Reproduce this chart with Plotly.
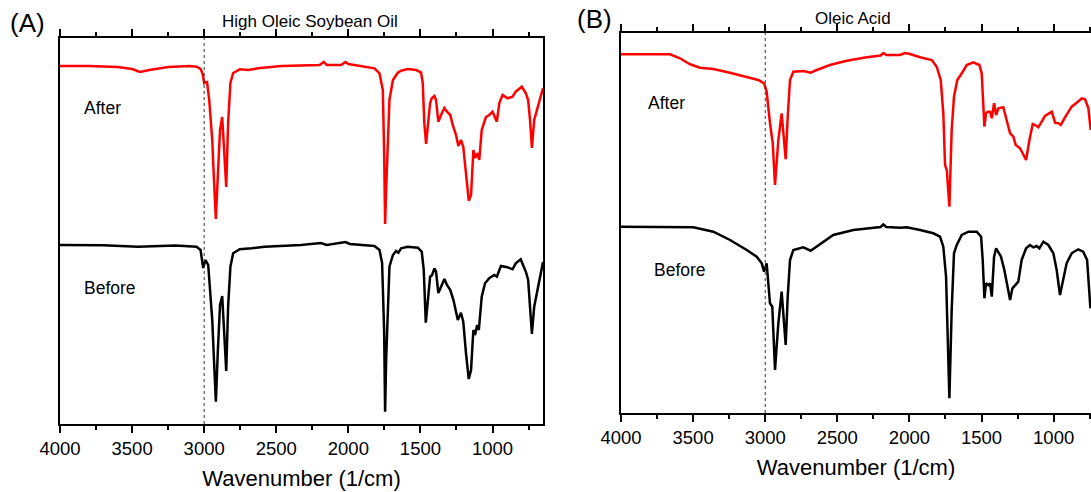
import plotly.graph_objects as go

# ---------------- data ----------------
# Panel A: High Oleic Soybean Oil
wn_a_after = [4000, 3800, 3600, 3500, 3445, 3380, 3250, 3100, 3053, 3025, 3010, 3000, 2990, 2980,
              2965, 2944, 2932, 2919, 2905, 2890, 2875, 2862, 2847, 2834, 2818, 2799, 2753, 2695,
              2626, 2465, 2300, 2200, 2170, 2150, 2050, 2020, 2000, 1911, 1819, 1784, 1761, 1752,
              1745, 1738, 1726, 1715, 1691, 1657, 1634, 1588, 1530, 1496, 1484, 1473, 1461, 1449,
              1433, 1421, 1403, 1392, 1376, 1357, 1334, 1316, 1293, 1276, 1253, 1237, 1219, 1203,
              1184, 1165, 1149, 1133, 1119, 1103, 1092, 1075, 1046, 1023, 1000, 984, 970, 953, 930,
              896, 861, 839, 797, 769, 753, 739, 727, 711, 693, 658, 650]
t_a_after = [358, 358, 357, 355, 352, 354, 357, 358, 357.3, 355, 350, 341, 342, 342,
             324, 284, 244, 205, 249, 294, 307, 274, 237, 301, 341, 351, 354.7, 354,
             355.7, 358, 359, 359, 362, 359, 359, 362, 360, 358, 355.7, 350.7, 334, 274,
             200, 234, 284, 324, 344, 351.3, 353.3, 355, 354, 351.7, 341, 301, 280, 297.3,
             321, 326, 328, 324, 302.3, 309, 316, 312.3, 309, 299, 289, 278, 284, 277.3,
             251, 223.3, 229, 274, 266, 271, 264, 294, 307, 309, 312.3, 307.3, 302.3, 321, 329,
             325.7, 327.3, 332.3, 337.3, 330.7, 324, 302.3, 276, 304, 314, 333.3, 336]

wn_a_before = [4000, 3700, 3460, 3200, 3053, 3025, 3007, 2998, 2991, 2972, 2955, 2944, 2932, 2919,
               2905, 2890, 2875, 2862, 2847, 2834, 2818, 2799, 2753, 2670, 2580, 2330, 2190, 2150,
               2020, 1990, 1911, 1819, 1784, 1766, 1752, 1745, 1738, 1731, 1715, 1691, 1669, 1653,
               1634, 1588, 1518, 1491, 1477, 1463, 1449, 1433, 1419, 1403, 1392, 1376, 1357, 1334,
               1316, 1293, 1271, 1241, 1219, 1203, 1184, 1165, 1149, 1133, 1121, 1107, 1095, 1075,
               1052, 1023, 988, 970, 942, 896, 861, 839, 805, 769, 753, 739, 727, 711, 688, 658, 650]
t_a_before = [179, 178.7, 177.3, 178.5, 177.3, 174, 156, 162, 164, 159, 124, 104, 64, 22.3,
              74, 119, 128, 94, 53, 117.3, 157.3, 170.7, 174.7, 175.7, 177.3, 179, 181, 179,
              182, 180, 179.3, 178, 174, 161, 94, 12.3, 64, 94, 157.3, 169, 173, 171.3,
              175.7, 177.3, 176.3, 172.3, 154, 101.3, 121, 147.3, 149, 155.7, 152.3, 131, 137.3, 145,
              139, 134, 124, 104, 111.3, 102.3, 70.7, 45, 54, 94, 89, 99, 94, 127.3,
              140.7, 145.7, 149, 147.3, 158, 156.7, 154.7, 160.7, 164.7, 152.3, 144, 114, 90, 117.3,
              134, 159, 162]

# Panel B: Oleic Acid
wn_b_after = [4000, 3800, 3660, 3591, 3521, 3452, 3360, 3244, 3128, 3048, 3008, 2990, 2967, 2948,
              2932, 2920, 2909, 2886, 2870, 2858, 2844, 2828, 2805, 2736, 2685, 2643, 2551, 2435,
              2296, 2200, 2181, 2160, 2065, 2030, 1996, 1926, 1845, 1811, 1783, 1765, 1753, 1741,
              1723, 1707, 1691, 1668, 1637, 1603, 1557, 1515, 1499, 1487, 1480, 1469, 1457, 1441,
              1429, 1413, 1399, 1383, 1349, 1326, 1302, 1279, 1263, 1233, 1210, 1191, 1168, 1145,
              1129, 1106, 1083, 1060, 1013, 990, 967, 951, 921, 875, 840, 805, 782, 759, 743]
t_b_after = [358.7, 358.7, 358.7, 354.7, 348.7, 345.3, 344, 340.3, 336.3, 333, 329.7, 321.3, 290, 270,
             228, 253, 273, 299.7, 273, 253.7, 296.3, 333, 341.3, 342, 340.3, 343, 348, 352.3,
             355.7, 357.5, 360, 358, 358, 360, 359, 355.7, 353, 346.3, 333, 299.7, 248, 243,
             206.3, 283, 316.3, 333, 339.7, 348, 350.7, 348, 339.7, 303, 286.3, 299.7, 301.3, 301.3,
             294.7, 309.7, 298, 304.7, 305.7, 293, 279.7, 276.3, 268, 264.7, 258, 253, 273, 289,
             288, 285.7, 291.3, 297, 301.3, 290.3, 289.7, 288, 295.7, 306.3, 310.3, 314.7, 313.7, 304.7, 283]

wn_b_before = [4000, 3700, 3499, 3360, 3244, 3128, 3059, 3024, 3008, 2990, 2967, 2951, 2932, 2920,
               2909, 2886, 2870, 2858, 2844, 2828, 2805, 2736, 2685, 2643, 2528, 2389, 2200, 2181,
               2160, 2065, 2019, 1926, 1834, 1788, 1765, 1746, 1734, 1723, 1707, 1691, 1672, 1637,
               1591, 1533, 1503, 1492, 1480, 1469, 1453, 1441, 1429, 1413, 1399, 1383, 1365, 1342,
               1321, 1302, 1286, 1268, 1245, 1222, 1191, 1164, 1141, 1118, 1099, 1071, 1037, 1002,
               979, 956, 933, 910, 875, 830, 795, 768, 745]
t_b_before = [186.3, 186.3, 185.7, 181.3, 173, 163, 156.3, 149.7, 141.3, 149.7, 109.7, 106.3, 43, 68,
              89.7, 121.3, 93, 68, 116.3, 153, 163, 165.7, 162.3, 166.3, 178, 183, 186, 188.5,
              186, 185.3, 185.7, 183, 179.7, 176.3, 166.3, 136.3, 76.3, 14.7, 103, 159.7, 168, 178,
              181.3, 181.3, 176.3, 153, 114.7, 129.7, 128, 129.7, 116.3, 156.3, 164.7, 161.3, 156.3, 143,
              126.3, 113, 124.7, 128, 131.3, 153, 164.7, 168, 165.7, 167, 164.7, 171.3, 168, 159.7,
              143, 118, 133, 149.7, 159.7, 163.7, 161.3, 153, 104.7]

panel_titles = ["High Oleic Soybean Oil", "Oleic Acid"]
panel_letters = ["(A)", "(B)"]
series_names = ["After", "Before"]
x_title = "Wavenumber (1/cm)"
x_ticks = [4000, 3500, 3000, 2500, 2000, 1500, 1000]
marker_wn = 3000  # dotted reference line

# ---------------- figure ----------------
W, H = 1091, 492
FONT = "Liberation Sans, Arial, sans-serif"
RED = "#ff0000"
BLACK = "#000000"


def px(x):
    return x / W


def py(y):
    return 1 - y / H


fig = go.Figure()
fig.add_trace(go.Scatter(x=wn_a_after, y=t_a_after, mode="lines", line=dict(color=RED, width=2.5),
                         name="After", xaxis="x", yaxis="y", showlegend=False))
fig.add_trace(go.Scatter(x=wn_a_before, y=t_a_before, mode="lines", line=dict(color=BLACK, width=2.5),
                         name="Before", xaxis="x", yaxis="y", showlegend=False))
fig.add_trace(go.Scatter(x=wn_b_after, y=t_b_after, mode="lines", line=dict(color=RED, width=2.5),
                         name="After", xaxis="x2", yaxis="y2", showlegend=False))
fig.add_trace(go.Scatter(x=wn_b_before, y=t_b_before, mode="lines", line=dict(color=BLACK, width=2.5),
                         name="Before", xaxis="x2", yaxis="y2", showlegend=False))

xcommon = dict(
    showline=True, linecolor=BLACK, linewidth=2, mirror="ticks",
    ticks="outside", ticklen=7, tickwidth=1.5, tickcolor=BLACK,
    tickvals=x_ticks, ticktext=[str(t) for t in x_ticks],
    minor=dict(dtick=250, ticks="outside", ticklen=4, tickwidth=1.5, tickcolor=BLACK, showgrid=False),
    showgrid=False, zeroline=False,
    tickfont=dict(family=FONT, size=18.5, color=BLACK),
    title=dict(text=x_title, font=dict(family=FONT, size=22, color=BLACK), standoff=12),
    automargin=False,
)
ycommon = dict(showline=True, linecolor=BLACK, linewidth=2, ticks="", showticklabels=False,
               showgrid=False, zeroline=False, automargin=False)

fig.update_layout(
    width=W, height=H, margin=dict(l=0, r=0, t=0, b=0),
    paper_bgcolor="white", plot_bgcolor="white",
    font=dict(family=FONT, color=BLACK),
    xaxis=dict(xcommon, domain=[px(60), px(543)], range=[4000, 650], anchor="y"),
    yaxis=dict(ycommon, domain=[py(424), py(38)], range=[0, 386], mirror=True, anchor="x"),
    xaxis2=dict(xcommon, domain=[px(621), 1.0], range=[4000, 741], anchor="y2"),
    yaxis2=dict(ycommon, domain=[py(413), py(33)], range=[0, 380], mirror=False, anchor="x2"),
)

# dotted reference lines at 3000 cm-1
for xr, yr in [("x", "y domain"), ("x2", "y2 domain")]:
    fig.add_shape(type="line", xref=xr, yref=yr, x0=marker_wn, x1=marker_wn, y0=0, y1=1,
                  line=dict(color="#333333", width=1, dash="dot"))

ann = []
# panel letters and titles
ann.append(dict(text=panel_letters[0], x=px(8), y=py(23), xanchor="left", yanchor="middle",
                font=dict(size=26)))
ann.append(dict(text=panel_titles[0], x=px(310), y=py(22), xanchor="center", yanchor="middle",
                font=dict(size=17)))
ann.append(dict(text=panel_letters[1], x=px(575), y=py(19), xanchor="left", yanchor="middle",
                font=dict(size=26)))
ann.append(dict(text=panel_titles[1], x=px(853), y=py(18), xanchor="center", yanchor="middle",
                font=dict(size=17)))
# series labels
ann.append(dict(text=series_names[0], x=px(82), y=py(108), xanchor="left", yanchor="middle", font=dict(size=17.5)))
ann.append(dict(text=series_names[1], x=px(82), y=py(288), xanchor="left", yanchor="middle", font=dict(size=17.5)))
ann.append(dict(text=series_names[0], x=px(646), y=py(103), xanchor="left", yanchor="middle", font=dict(size=17.5)))
ann.append(dict(text=series_names[1], x=px(652), y=py(270), xanchor="left", yanchor="middle", font=dict(size=17.5)))
for a in ann:
    a.update(xref="paper", yref="paper", showarrow=False)
    a["font"].update(family=FONT, color=BLACK)
fig.update_layout(annotations=ann)

fig.write_html("out.html")
